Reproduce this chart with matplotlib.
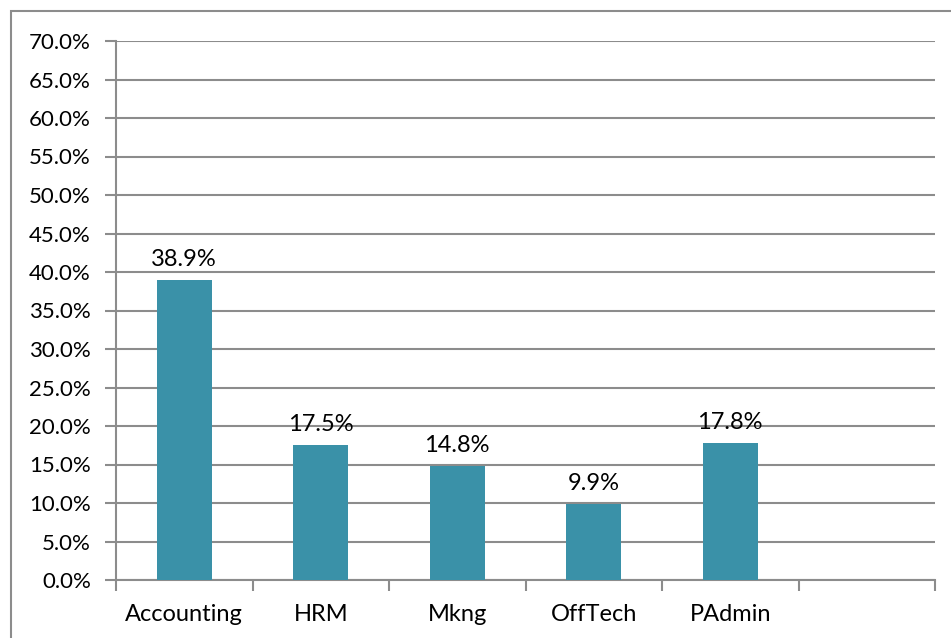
import matplotlib
matplotlib.use("Agg")
import matplotlib.pyplot as plt
from matplotlib.patches import Rectangle
from matplotlib.ticker import MultipleLocator, FuncFormatter

categories = ["Accounting", "HRM", "Mkng", "OffTech", "PAdmin", ""]
values = [38.9, 17.5, 14.8, 9.9, 17.8, None]

plt.rcParams['font.family'] = ['Lato', 'DejaVu Sans']

fig = plt.figure(figsize=(9.51, 6.38), dpi=100)
ax = fig.add_axes([116 / 951, 1 - 580 / 638, (935 - 116) / 951, (580 - 41) / 638])

# outer chart border
fig.patches.append(Rectangle((11 / 951, -0.1), 1.2, 1 - 11 / 638 + 0.1, transform=fig.transFigure,
                             fill=False, edgecolor="#8c8c8c", linewidth=1.5))

xs = [i for i, v in enumerate(values) if v is not None]
vals = [v for v in values if v is not None]
ax.bar(xs, vals, width=0.4, color="#3a91a8", zorder=3)
for x, v in zip(xs, vals):
    ax.text(x, v + 1.3, f"{v:.1f}%", ha="center", va="bottom", fontsize=17)

ax.set_xlim(-0.5, len(categories) - 0.5)
ax.set_ylim(0, 70)
ax.yaxis.set_major_locator(MultipleLocator(5))
ax.yaxis.set_major_formatter(FuncFormatter(lambda y, _: f"{y:.1f}%"))
ax.grid(axis="y", color="#8c8c8c", linewidth=1.5, zorder=0)

ax.set_xticks(range(len(categories)))
ax.set_xticklabels(categories)
ax.set_xticks([i - 0.5 for i in range(len(categories) + 1)], minor=True)
ax.tick_params(axis="x", which="major", length=0, pad=17, labelsize=17)
ax.tick_params(axis="x", which="minor", length=8, width=1.5, color="#8c8c8c")
ax.tick_params(axis="y", length=8, width=1.5, color="#8c8c8c", labelsize=16, pad=10)

for s in ["top", "right"]:
    ax.spines[s].set_visible(False)
for s in ["left", "bottom"]:
    ax.spines[s].set_color("#8c8c8c")
    ax.spines[s].set_linewidth(1.5)

fig.savefig("out.png", dpi=100)
